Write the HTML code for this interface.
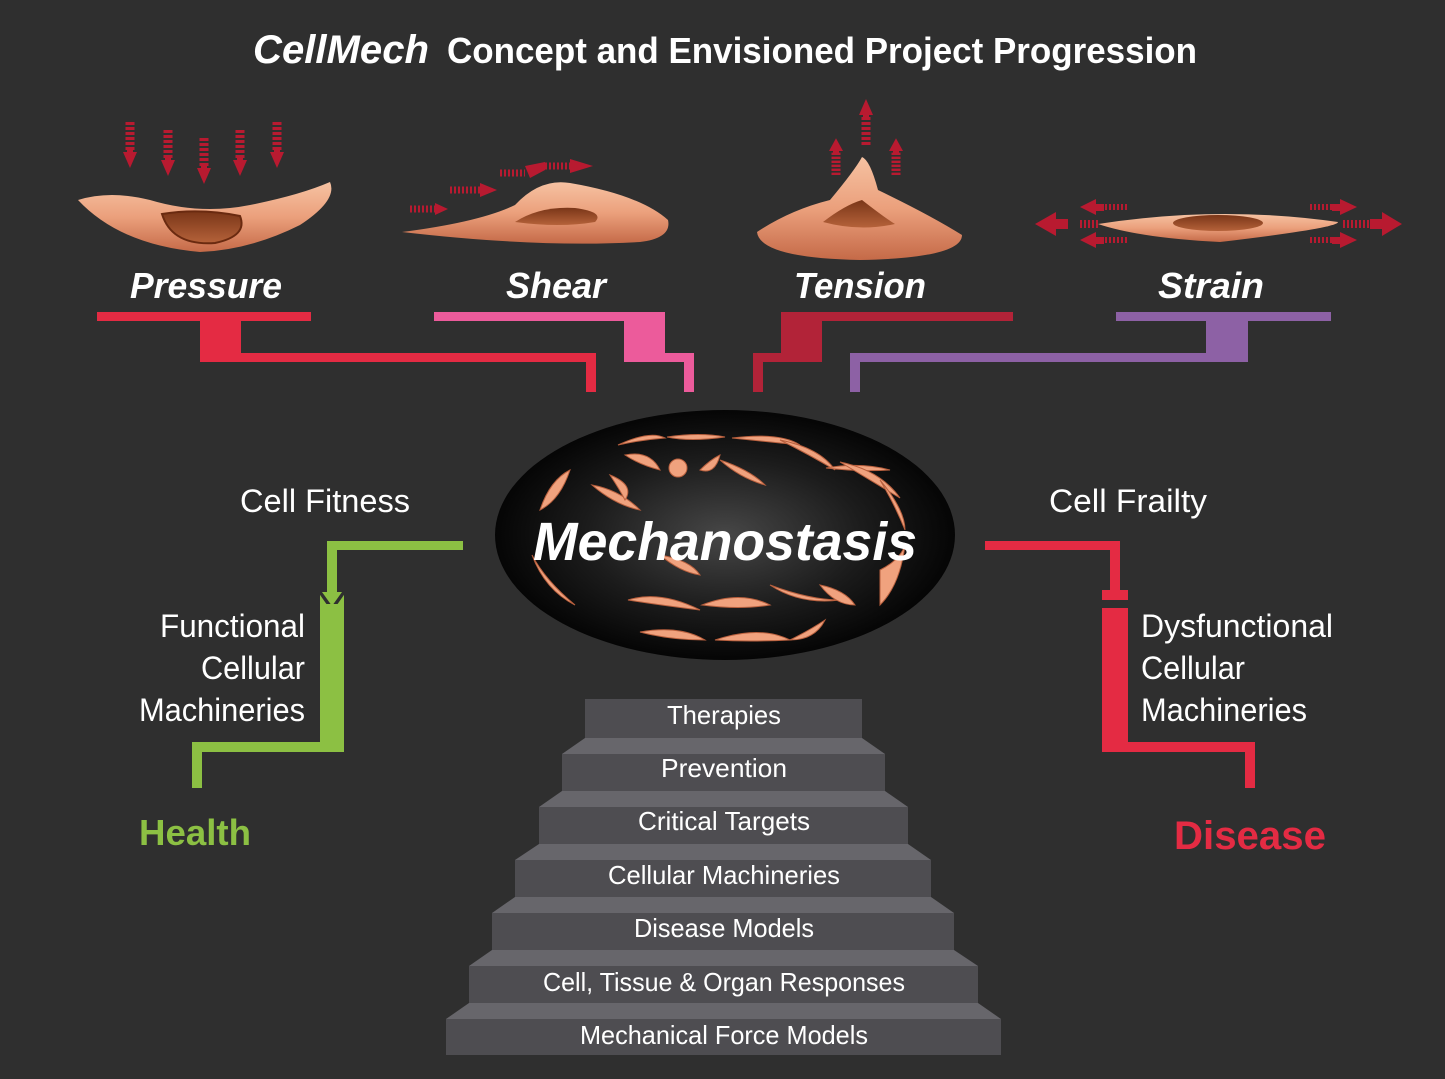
<!DOCTYPE html>
<html><head><meta charset="utf-8"><style>
html,body{margin:0;padding:0;background:#2f2f2f;}
svg{display:block;}
text{font-family:"Liberation Sans",sans-serif;}
</style></head><body>
<svg width="1445" height="1079" viewBox="0 0 1445 1079" xmlns="http://www.w3.org/2000/svg">
<defs>
<linearGradient id="cell" x1="0" y1="0" x2="0" y2="1">
<stop offset="0" stop-color="#f6c2a2"/><stop offset="0.5" stop-color="#eba07c"/><stop offset="1" stop-color="#c56a48"/></linearGradient>
<linearGradient id="nuc" x1="0" y1="0" x2="0" y2="1">
<stop offset="0" stop-color="#7a3618"/><stop offset="1" stop-color="#b5623a"/></linearGradient>
<radialGradient id="ell" cx="0.5" cy="0.5" r="0.5">
<stop offset="0" stop-color="#474747"/><stop offset="0.6" stop-color="#1c1c1c"/><stop offset="1" stop-color="#050505"/></radialGradient>
<g id="arr"><line x1="0" y1="0" x2="0" y2="30" stroke="#b81a30" stroke-width="9" stroke-dasharray="3 2"/><polygon points="-7,30 7,30 0,46" fill="#b81a30"/><rect x="-3" y="26" width="6" height="8" fill="#b81a30"/></g>
</defs>
<rect width="1445" height="1079" fill="#2f2f2f"/>

<text x="253" y="63" font-size="40" font-weight="bold" font-style="italic" fill="#fff" textLength="176" lengthAdjust="spacingAndGlyphs">CellMech</text>
<text x="447" y="63" font-size="36" font-weight="bold" fill="#fff" textLength="750" lengthAdjust="spacingAndGlyphs">Concept and Envisioned Project Progression</text>

<!-- pressure -->
<g transform="translate(130,122)"><use href="#arr"/></g>
<g transform="translate(168,130)"><use href="#arr"/></g>
<g transform="translate(204,138)"><use href="#arr"/></g>
<g transform="translate(240,130)"><use href="#arr"/></g>
<g transform="translate(277,122)"><use href="#arr"/></g>
<path d="M78,200 Q110,190 150,200 Q200,215 250,205 Q300,195 330,182 Q338,200 300,225 Q250,250 200,252 Q120,245 78,200Z" fill="url(#cell)"/>
<path d="M162,214 Q200,208 240,216 Q248,236 215,243 Q172,246 162,214Z" fill="url(#nuc)" stroke="#6a2a10" stroke-width="2"/>

<!-- shear -->
<g fill="#b81a30">
<line x1="410" y1="209" x2="435" y2="209" stroke="#b81a30" stroke-width="7" stroke-dasharray="2 2"/><polygon points="435,203 435,215 448,209"/>
<line x1="450" y1="190" x2="480" y2="190" stroke="#b81a30" stroke-width="7" stroke-dasharray="2 2"/><polygon points="480,183 480,197 497,190"/>
<line x1="500" y1="173" x2="525" y2="173" stroke="#b81a30" stroke-width="7" stroke-dasharray="2 2"/><polygon points="525,166 545,162 545,170 530,178"/>
<line x1="545" y1="166" x2="570" y2="166" stroke="#b81a30" stroke-width="7" stroke-dasharray="2 2"/><polygon points="570,159 570,173 593,166"/>
</g>
<path d="M402,232 Q480,222 515,205 Q540,178 570,183 Q640,195 668,220 Q672,238 640,242 Q540,248 402,232Z" fill="url(#cell)"/>
<path d="M515,222 Q540,206 575,208 Q605,212 595,222 Q560,228 515,222Z" fill="url(#nuc)"/>

<!-- tension -->
<g transform="translate(866,145) scale(1,-1)"><use href="#arr"/></g>
<g transform="translate(836,175) scale(1,-0.8)"><use href="#arr"/></g>
<g transform="translate(896,175) scale(1,-0.8)"><use href="#arr"/></g>
<path d="M757,232 Q790,210 830,200 Q855,170 862,157 Q870,160 878,190 Q930,215 962,235 Q962,258 860,260 Q760,258 757,232Z" fill="url(#cell)"/>
<path d="M823,222 Q845,205 862,200 Q885,218 895,224 Q860,232 823,222Z" fill="url(#nuc)"/>

<!-- strain -->
<g fill="#b81a30" stroke="#b81a30">
<line x1="1080" y1="224" x2="1100" y2="224" stroke-width="8" stroke-dasharray="2 2"/><polygon points="1035,224 1056,212 1056,236" stroke="none"/><rect x="1056" y="219" width="12" height="10" stroke="none"/>
<line x1="1105" y1="207" x2="1128" y2="207" stroke-width="6" stroke-dasharray="2 2"/><polygon points="1080,207 1096,199 1096,215" stroke="none"/><rect x="1096" y="204" width="8" height="7" stroke="none"/>
<line x1="1105" y1="240" x2="1128" y2="240" stroke-width="6" stroke-dasharray="2 2"/><polygon points="1080,240 1096,232 1096,248" stroke="none"/><rect x="1096" y="237" width="8" height="7" stroke="none"/>
<line x1="1343" y1="224" x2="1370" y2="224" stroke-width="8" stroke-dasharray="2 2"/><polygon points="1402,224 1382,212 1382,236" stroke="none"/><rect x="1370" y="219" width="12" height="10" stroke="none"/>
<line x1="1310" y1="207" x2="1332" y2="207" stroke-width="6" stroke-dasharray="2 2"/><polygon points="1357,207 1340,199 1340,215" stroke="none"/><rect x="1332" y="204" width="8" height="7" stroke="none"/>
<line x1="1310" y1="240" x2="1332" y2="240" stroke-width="6" stroke-dasharray="2 2"/><polygon points="1357,240 1340,232 1340,248" stroke="none"/><rect x="1332" y="237" width="8" height="7" stroke="none"/>
</g>
<path d="M1098,224 Q1220,205 1338,222 Q1338,228 1220,242 Q1140,238 1098,224Z" fill="url(#cell)"/>
<ellipse cx="1218" cy="223" rx="45" ry="8" fill="url(#nuc)"/>

<g font-size="36" font-weight="bold" font-style="italic" fill="#fff">
<text x="130" y="298" textLength="152" lengthAdjust="spacingAndGlyphs">Pressure</text>
<text x="506" y="298" textLength="100" lengthAdjust="spacingAndGlyphs">Shear</text>
<text x="794" y="298" textLength="132" lengthAdjust="spacingAndGlyphs">Tension</text>
<text x="1158" y="298" textLength="106" lengthAdjust="spacingAndGlyphs">Strain</text>
</g>

<path d="M97,312H311V321H241V353H596V392H586V362H200V321H97Z" fill="#e42b43"/>
<path d="M434,312H665V353H694V392H684V362H624V321H434Z" fill="#ec5b9b"/>
<path d="M781,312H1013V321H822V362H763V392H753V353H781Z" fill="#b22338"/>
<path d="M1116,312H1331V321H1248V362H860V392H850V353H1206V321H1116Z" fill="#8d61a5"/>

<ellipse cx="725" cy="535" rx="230" ry="125" fill="url(#ell)"/>
<g fill="#f0a27e" stroke="#b9603e" stroke-width="1">
<path d="M618,445 Q650,430 665,438 Q640,440 618,445Z"/>
<path d="M667,437 Q700,432 725,437 Q690,442 667,437Z"/>
<path d="M732,438 Q780,432 800,445 Q770,442 732,438Z"/>
<path d="M780,440 Q820,448 835,470 Q810,455 780,440Z"/>
<path d="M826,468 Q860,462 890,470 Q860,472 826,468Z"/>
<path d="M840,462 Q880,470 900,498 Q870,480 840,462Z"/>
<path d="M880,480 Q905,510 905,530 Q895,505 880,480Z"/>
<path d="M540,510 Q550,480 570,470 Q560,500 540,510Z"/>
<path d="M532,555 Q545,580 575,605 Q545,590 532,555Z"/>
<path d="M592,485 Q620,490 640,510 Q615,505 592,485Z"/>
<path d="M700,470 Q710,460 720,455 Q715,475 700,470Z"/>
<path d="M720,460 Q750,470 765,485 Q740,478 720,460Z"/>
<path d="M625,455 Q650,450 660,470 Q640,465 625,455Z"/>
<path d="M610,475 Q635,485 625,500 Q620,490 610,475Z"/>
<circle cx="678" cy="468" r="9"/>
<path d="M628,600 Q660,590 700,610 Q660,605 628,600Z"/>
<path d="M702,605 Q740,590 770,605 Q740,610 702,605Z"/>
<path d="M770,585 Q810,600 840,600 Q800,605 770,585Z"/>
<path d="M820,585 Q845,590 855,605 Q835,605 820,585Z"/>
<path d="M880,570 Q900,560 905,545 Q900,585 880,605Z"/>
<path d="M640,632 Q680,625 705,640 Q670,640 640,632Z"/>
<path d="M715,640 Q760,625 790,640 Q750,642 715,640Z"/>
<path d="M790,640 Q810,630 825,620 Q815,640 790,640Z"/>
<path d="M660,555 Q690,560 700,575 Q680,572 660,555Z"/>
</g>
<text x="725" y="560" font-size="54" font-weight="bold" font-style="italic" fill="#fff" text-anchor="middle" textLength="384" lengthAdjust="spacingAndGlyphs">Mechanostasis</text>

<text x="325" y="512" font-size="32" fill="#fff" text-anchor="middle" textLength="170" lengthAdjust="spacingAndGlyphs">Cell Fitness</text>
<path d="M463,541V550H337V595H344V620H320V595H327V541Z" fill="#8cc043"/>
<polygon points="318,592 346,592 332,612" fill="#2f2f2f"/>
<polygon points="322,592 342,592 332,606" fill="#8cc043"/>
<path d="M320,604H344V752H202V788H192V742H320Z" fill="#8cc043"/>
<g font-size="32" fill="#fff" text-anchor="end">
<text x="305" y="637" textLength="145" lengthAdjust="spacingAndGlyphs">Functional</text>
<text x="305" y="679" textLength="104" lengthAdjust="spacingAndGlyphs">Cellular</text>
<text x="305" y="721" textLength="166" lengthAdjust="spacingAndGlyphs">Machineries</text>
</g>
<text x="195" y="845" font-size="36" font-weight="bold" fill="#8cc043" text-anchor="middle" textLength="112" lengthAdjust="spacingAndGlyphs">Health</text>

<text x="1128" y="512" font-size="32" fill="#fff" text-anchor="middle" textLength="158" lengthAdjust="spacingAndGlyphs">Cell Frailty</text>
<path d="M985,541H1120V590H1128V600H1102V590H1110V550H985Z" fill="#e42b43"/>
<path d="M1102,608H1128V742H1255V788H1245V752H1102Z" fill="#e42b43"/>
<g font-size="32" fill="#fff">
<text x="1141" y="637" textLength="192" lengthAdjust="spacingAndGlyphs">Dysfunctional</text>
<text x="1141" y="679" textLength="104" lengthAdjust="spacingAndGlyphs">Cellular</text>
<text x="1141" y="721" textLength="166" lengthAdjust="spacingAndGlyphs">Machineries</text>
</g>
<text x="1250" y="849" font-size="40" font-weight="bold" fill="#e42b43" text-anchor="middle" textLength="152" lengthAdjust="spacingAndGlyphs">Disease</text>

<g>
<polygon points="446,1019 469,1003 978,1003 1001,1019" fill="#67666b"/><rect x="446" y="1019" width="555" height="36" fill="#4e4d51"/>
<polygon points="469,966 492,950 954,950 978,966" fill="#67666b"/><rect x="469" y="966" width="509" height="37" fill="#4e4d51"/>
<polygon points="492,913 515,897 931,897 954,913" fill="#67666b"/><rect x="492" y="913" width="462" height="37" fill="#4e4d51"/>
<polygon points="515,860 539,844 908,844 931,860" fill="#67666b"/><rect x="515" y="860" width="416" height="37" fill="#4e4d51"/>
<polygon points="539,807 562,791 885,791 908,807" fill="#67666b"/><rect x="539" y="807" width="369" height="37" fill="#4e4d51"/>
<polygon points="562,754 585,738 862,738 885,754" fill="#67666b"/><rect x="562" y="754" width="323" height="37" fill="#4e4d51"/>
<rect x="585" y="699" width="277" height="39" fill="#4e4d51"/>
</g>
<g font-size="26" fill="#fff" text-anchor="middle">
<text x="724" y="724" textLength="114" lengthAdjust="spacingAndGlyphs">Therapies</text>
<text x="724" y="777" textLength="126" lengthAdjust="spacingAndGlyphs">Prevention</text>
<text x="724" y="830" textLength="172" lengthAdjust="spacingAndGlyphs">Critical Targets</text>
<text x="724" y="884" textLength="232" lengthAdjust="spacingAndGlyphs">Cellular Machineries</text>
<text x="724" y="937" textLength="180" lengthAdjust="spacingAndGlyphs">Disease Models</text>
<text x="724" y="991" textLength="362" lengthAdjust="spacingAndGlyphs">Cell, Tissue &amp; Organ Responses</text>
<text x="724" y="1044" textLength="288" lengthAdjust="spacingAndGlyphs">Mechanical Force Models</text>
</g>
</svg>
</body></html>
